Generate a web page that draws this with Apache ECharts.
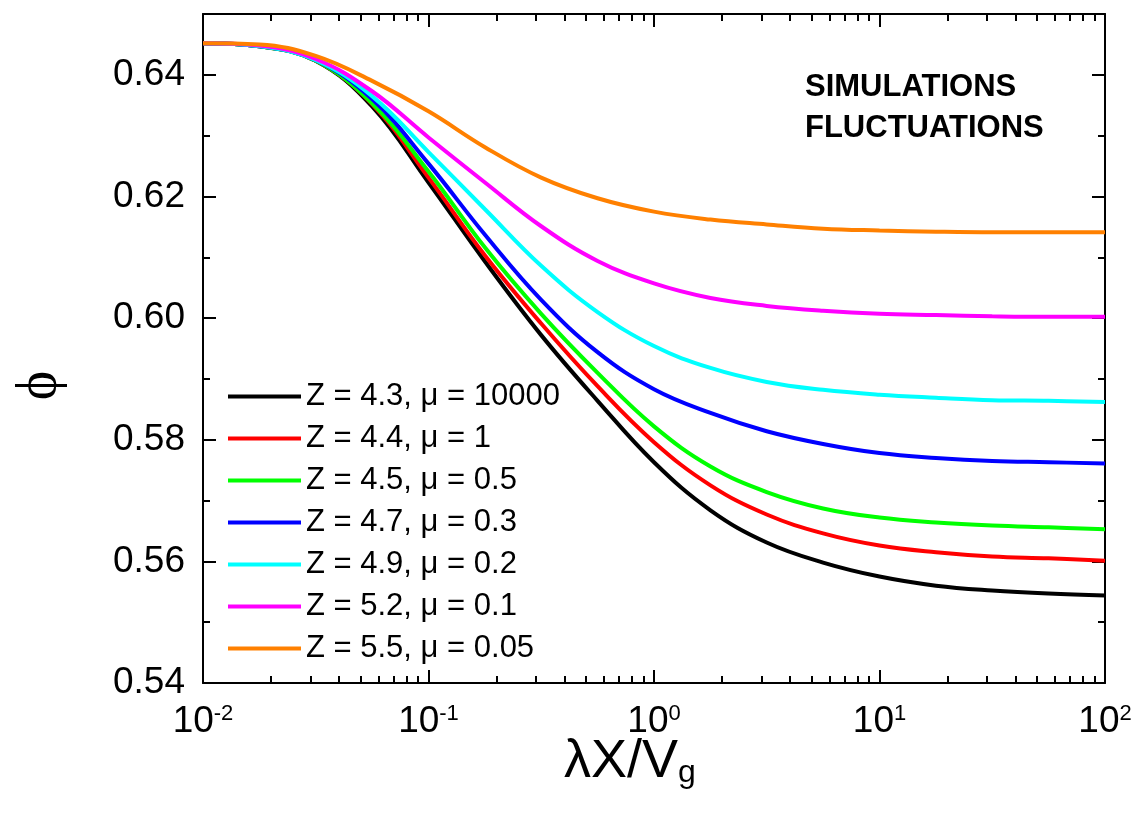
<!DOCTYPE html>
<html><head><meta charset="utf-8">
<script src="https://cdn.jsdelivr.net/npm/echarts@6/dist/echarts.min.js"></script>
<style>html,body{margin:0;padding:0;background:#fff}#c{width:1144px;height:813px}</style>
</head><body><div id="c"></div>
<script>
// x values (lambda X / V_g), log spaced sample points
const xValues = [0.01, 0.0178, 0.0316, 0.0562, 0.1, 0.178, 0.316, 0.562, 1, 1.78, 3.16, 5.62, 10, 17.8, 31.6, 56.2, 100];
const seriesNames = ['Z = 4.3, \u03bc = 10000', 'Z = 4.4, \u03bc = 1', 'Z = 4.5, \u03bc = 0.5', 'Z = 4.7, \u03bc = 0.3', 'Z = 4.9, \u03bc = 0.2', 'Z = 5.2, \u03bc = 0.1', 'Z = 5.5, \u03bc = 0.05'];
const phiZ43 = [0.6452, 0.6447, 0.6423, 0.6348, 0.6223, 0.6093, 0.5972, 0.5864, 0.5763, 0.5684, 0.5631, 0.5598, 0.5575, 0.5560, 0.5552, 0.5547, 0.5544];
const phiZ44 = [0.6452, 0.6447, 0.6423, 0.6352, 0.6231, 0.6103, 0.5991, 0.5888, 0.5796, 0.5725, 0.5677, 0.5646, 0.5626, 0.5615, 0.5608, 0.5605, 0.5601];
const phiZ45 = [0.6452, 0.6447, 0.6423, 0.6353, 0.6241, 0.6116, 0.6007, 0.5910, 0.5822, 0.5756, 0.5714, 0.5687, 0.5672, 0.5664, 0.5659, 0.5656, 0.5653];
const phiZ47 = [0.6452, 0.6447, 0.6424, 0.6360, 0.6254, 0.6137, 0.6030, 0.5944, 0.5883, 0.5844, 0.5814, 0.5793, 0.5778, 0.5770, 0.5765, 0.5763, 0.5761];
const phiZ49 = [0.6452, 0.6447, 0.6424, 0.6365, 0.6273, 0.6179, 0.6086, 0.6010, 0.5954, 0.5918, 0.5895, 0.5882, 0.5874, 0.5869, 0.5865, 0.5864, 0.5862];
const phiZ52 = [0.6452, 0.6448, 0.6426, 0.6373, 0.6297, 0.6223, 0.6151, 0.6094, 0.6057, 0.6033, 0.6020, 0.6012, 0.6007, 0.6005, 0.6003, 0.6002, 0.6002];
const phiZ55 = [0.6452, 0.6450, 0.6431, 0.6390, 0.6340, 0.6281, 0.6231, 0.6197, 0.6175, 0.6162, 0.6154, 0.6147, 0.6144, 0.6142, 0.6141, 0.6141, 0.6141];
const allSeries = [phiZ43, phiZ44, phiZ45, phiZ47, phiZ49, phiZ52, phiZ55];
const colors = ['#000000', '#ff0000', '#00ff00', '#0000ff', '#00ffff', '#ff00ff', '#ff8000'];
const annotationLines = ['SIMULATIONS', 'FLUCTUATIONS'];
const yAxisTitle = '\u03d5';
// minor tick positions of the log axis (2..9 within each decade), in log10 units
const minorDecades = [-2, -1, 0, 1];
const minorMultipliers = [2, 3, 4, 5, 6, 7, 8, 9];

const minorLogTicks = [];
minorDecades.forEach(d => minorMultipliers.forEach(m => minorLogTicks.push(d + Math.log10(m))));

const FONT = 'Liberation Sans';
const chart = echarts.init(document.getElementById('c'), null, {renderer: 'canvas'});

const axisLineStyle = {color: '#000', width: 2};
const hiddenLabel = {show: false};
const tickStyle = {color: '#000', width: 2};

const option = {
  backgroundColor: '#fff',
  animation: false,
  textStyle: {fontFamily: FONT},
  grid: {left: 203, right: 39, top: 14, bottom: 130, containLabel: false},
  legend: {
    orient: 'vertical', left: 228, top: 381, padding: 0,
    icon: 'rect', itemWidth: 73, itemHeight: 4, itemGap: 11,
    textStyle: {fontFamily: FONT, fontSize: 31, color: '#000', lineHeight: 30},
    data: seriesNames
  },
  xAxis: [
    {
      type: 'log', logBase: 10, min: 0.01, max: 100, position: 'bottom',
      axisLine: {onZero: false, lineStyle: axisLineStyle},
      axisTick: {inside: true, length: 13, lineStyle: tickStyle},
      splitLine: {show: false},
      minorTick: {show: false},
      axisLabel: {
        margin: 20,
        formatter: v => '{b|10}{s|' + Math.round(Math.log10(v)) + '}',
        rich: {
          b: {fontFamily: FONT, fontSize: 37, lineHeight: 37, color: '#000'},
          s: {fontFamily: FONT, fontSize: 22, lineHeight: 22, verticalAlign: 'top', color: '#000'}
        }
      },
      name: '{n|\u03bbX/V}{g|g}', nameLocation: 'middle', nameGap: 52, nameMoveOverlap: false,
      nameTextStyle: {
        padding: [0, 48, 0, 0],
        rich: {
          n: {fontFamily: FONT, fontSize: 54, lineHeight: 54, verticalAlign: 'top', color: '#000'},
          g: {fontFamily: FONT, fontSize: 32, lineHeight: 32, verticalAlign: 'bottom', padding: [36, 0, 0, 0], color: '#000'}
        }
      }
    },
    {
      type: 'log', logBase: 10, min: 0.01, max: 100, position: 'top',
      axisLine: {onZero: false, lineStyle: axisLineStyle},
      axisTick: {inside: true, length: 13, lineStyle: tickStyle},
      splitLine: {show: false}, axisLabel: hiddenLabel
    },
    {
      type: 'value', min: -2, max: 2, position: 'bottom',
      axisLine: {show: false, onZero: false}, splitLine: {show: false}, axisLabel: hiddenLabel,
      axisTick: {inside: true, length: 7, customValues: minorLogTicks, lineStyle: tickStyle}
    },
    {
      type: 'value', min: -2, max: 2, position: 'top',
      axisLine: {show: false, onZero: false}, splitLine: {show: false}, axisLabel: hiddenLabel,
      axisTick: {inside: true, length: 7, customValues: minorLogTicks, lineStyle: tickStyle}
    }
  ],
  yAxis: [
    {
      type: 'value', min: 0.54, max: 0.65, interval: 0.02, position: 'left',
      axisLine: {show: true, onZero: false, lineStyle: axisLineStyle},
      axisTick: {show: true, inside: true, length: 13, lineStyle: tickStyle},
      splitLine: {show: false},
      axisLabel: {margin: 18, showMaxLabel: false, fontFamily: FONT, fontSize: 37, color: '#000', formatter: v => v.toFixed(2)},
      name: yAxisTitle, nameLocation: 'middle', nameRotate: 90, nameGap: 135, nameMoveOverlap: false,
      nameTextStyle: {fontFamily: 'Liberation Serif', fontSize: 56, color: '#000', padding: [0, 74, 0, 0]}
    },
    {
      type: 'value', min: 0.54, max: 0.65, interval: 0.02, position: 'right',
      axisLine: {show: true, onZero: false, lineStyle: axisLineStyle},
      axisTick: {show: true, inside: true, length: 13, lineStyle: tickStyle},
      splitLine: {show: false}, axisLabel: hiddenLabel
    },
    {
      type: 'value', min: 0.54, max: 0.65, interval: 0.01, position: 'left',
      axisLine: {show: false, onZero: false}, splitLine: {show: false}, axisLabel: hiddenLabel,
      axisTick: {show: true, inside: true, length: 7, lineStyle: tickStyle}
    },
    {
      type: 'value', min: 0.54, max: 0.65, interval: 0.01, position: 'right',
      axisLine: {show: false, onZero: false}, splitLine: {show: false}, axisLabel: hiddenLabel,
      axisTick: {show: true, inside: true, length: 7, lineStyle: tickStyle}
    }
  ],
  graphic: [
    {
      type: 'text', left: 805, top: 67, z: 10,
      style: {text: annotationLines.join('\n'), fontFamily: FONT, fontWeight: 'bold', fontSize: 31, lineHeight: 41, fill: '#000'}
    }
  ],
  series: allSeries.map((arr, i) => ({
    name: seriesNames[i], type: 'line', xAxisIndex: 0, yAxisIndex: 0,
    data: xValues.map((x, j) => [x, arr[j]]),
    smooth: 0.4, symbol: 'none', showSymbol: false,
    lineStyle: {color: colors[i], width: 4},
    itemStyle: {color: colors[i]},
    z: 2 + i
  }))
};
chart.setOption(option);
</script>
</body></html>
